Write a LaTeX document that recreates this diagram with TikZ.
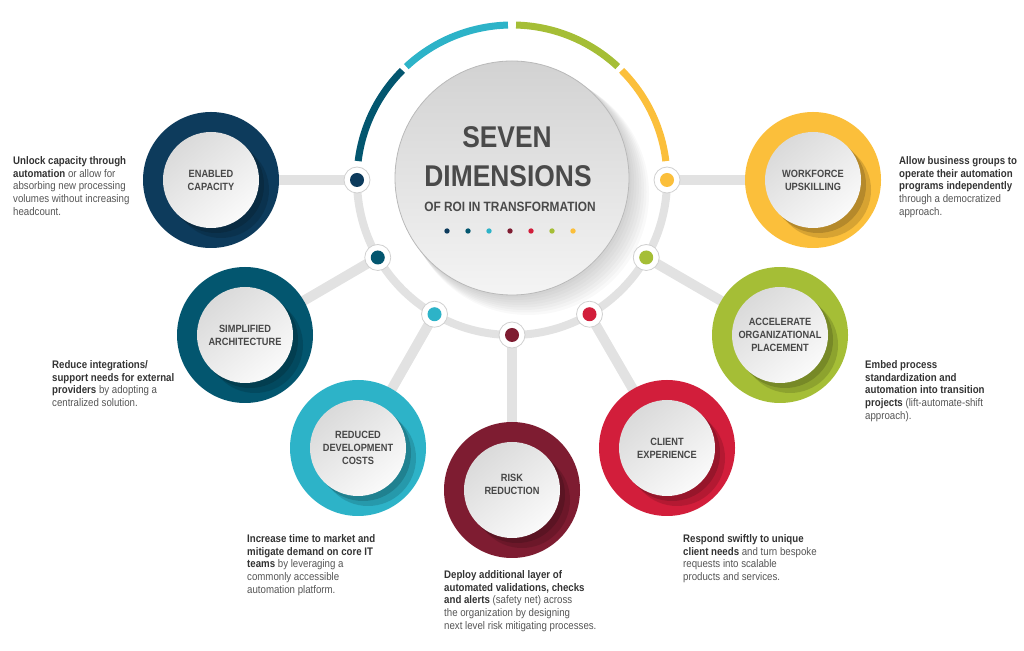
\documentclass[tikz,border=0pt]{standalone}
\usepackage{fontspec}
\setmainfont{Liberation Sans}
\newfontfamily\cf[FakeStretch=0.88]{Liberation Sans}
\usetikzlibrary{calc}
\pgfdeclarelayer{bg}
\pgfsetlayers{bg,main}
\definecolor{cnavy}{HTML}{0D3B5C}
\definecolor{cteal}{HTML}{03566F}
\definecolor{ccyan}{HTML}{2DB3C8}
\definecolor{cmaroon}{HTML}{7E1C31}
\definecolor{cred}{HTML}{D21E3B}
\definecolor{cgreen}{HTML}{A5BE36}
\definecolor{cyellow}{HTML}{FBBF3B}
\definecolor{ringgray}{HTML}{E2E2E2}
\definecolor{dotedge}{HTML}{D0D0D0}
\definecolor{descgray}{HTML}{555555}
\definecolor{boldgray}{HTML}{333333}
\definecolor{labelgray}{HTML}{474747}
\definecolor{titlegray}{HTML}{4A4A4A}
\definecolor{innertop}{HTML}{DADADA}
\definecolor{innerbot}{HTML}{FAFAFA}
\definecolor{hubtop}{HTML}{D2D2D2}
\definecolor{hubbot}{HTML}{F4F4F4}
\newcommand\dB[1]{{\bfseries\color{boldgray}#1}}
\begin{document}
\begin{tikzpicture}[x=1pt,y=1pt,
  ringdot/.style={circle, fill=white, draw=dotedge, line width=0.8pt, minimum size=26pt, inner sep=0pt},
  sat/.style={circle, minimum size=136pt, inner sep=0pt},
  connector/.style={draw=ringgray, line width=10pt},
  desc/.style={anchor=north west, inner sep=0pt, align=left, text=descgray,
    font=\cf\fontsize{11}{12.9}\selectfont},
  satlabel/.style={align=center, inner sep=0pt, text=labelgray,
    font=\cf\bfseries\fontsize{10.5}{13}\selectfont},
  title/.style={inner sep=0pt, text=titlegray, font=\cf\bfseries}]
\useasboundingbox (0,0) rectangle (1024,650);
\coordinate (rc) at (512,470);

% satellites
\foreach \n/\px/\py/\ly/\c/\t in {
  en/211/470/470/cnavy/{ENABLED\\CAPACITY},
  si/245/315/315/cteal/{SIMPLIFIED\\ARCHITECTURE},
  re/358/202/202/ccyan/{REDUCED\\DEVELOPMENT\\COSTS},
  ri/512/160/166/cmaroon/{RISK\\REDUCTION},
  cl/667/202/202/cred/{CLIENT\\EXPERIENCE},
  ac/780/315/315/cgreen/{ACCELERATE\\ORGANIZATIONAL\\PLACEMENT},
  wo/813/470/470/cyellow/{WORKFORCE\\UPSKILLING}} {
  \node[sat, fill=\c] (s\n) at (\px,\py) {};
  \begin{scope}
    \clip (\px,\py) circle (68);
    \fill[\c!72!black] (\px+5,\py-5) circle (48);
    \fill[\c!72!black, opacity=0.5] (\px+10,\py-10) circle (48);
  \end{scope}
  \shade[top color=innertop, bottom color=innerbot, shading angle=40] (\px,\py) circle (48);
  \node[satlabel] (l\n) at (\px,\ly) {\t};
}

% ring dots
\foreach \n/\a/\c in {en/180/cnavy, si/210/cteal, re/240/ccyan, ri/270/cmaroon,
  cl/300/cred, ac/330/cgreen, wo/0/cyellow} {
  \node[ringdot] (d\n) at ($(rc)+(\a:155)$) {};
  \fill[\c] (d\n.center) circle (7);
  \begin{pgfonlayer}{bg}
    \draw[connector] (d\n.center) -- (s\n.center);
  \end{pgfonlayer}
}

% gray lower ring
\begin{pgfonlayer}{bg}
  \draw[ringgray, line width=8pt] (rc) ++(180:155) arc[start angle=180, end angle=360, radius=155];
\end{pgfonlayer}

% coloured upper arcs
\draw[cteal, line width=7pt] (rc) ++(173:155) arc[start angle=173, end angle=135, radius=155];
\draw[ccyan, line width=7pt] (rc) ++(133:155) arc[start angle=133, end angle=91.5, radius=155];
\draw[cgreen, line width=7pt] (rc) ++(88.5:155) arc[start angle=88.5, end angle=47, radius=155];
\draw[cyellow, line width=7pt] (rc) ++(45:155) arc[start angle=45, end angle=7, radius=155];

% hub
\foreach \i in {1,...,8} {
  \fill[black, opacity=0.025] (512+2*\i,472-2*\i) circle (117+0.5*\i);
}
\shade[top color=hubtop, bottom color=hubbot] (512,472) circle (117);
\node[circle, draw=gray!55, line width=0.8pt, minimum size=234pt, inner sep=0pt] (hub) at (512,472) {};
\node[title, font=\cf\bfseries\fontsize{30}{30}\selectfont] (t1) at (507,512.5) {SEVEN};
\node[title, font=\cf\bfseries\fontsize{30}{30}\selectfont] (t2) at (508,474) {DIMENSIONS};
\node[title, font=\cf\bfseries\fontsize{13.5}{14}\selectfont] (t3) at (510,443.3) {OF ROI IN TRANSFORMATION};
\foreach \k/\c in {0/cnavy,1/cteal,2/ccyan,3/cmaroon,4/cred,5/cgreen,6/cyellow} {
  \fill[\c] (447+21*\k,419) circle (2.7);
}

% descriptions
\node[desc] (xen) at (13,494) {\dB{Unlock capacity through}\\\dB{automation} or allow for\\absorbing new processing\\volumes without increasing\\headcount.};
\node[desc] (xsi) at (52,290) {\dB{Reduce integrations/}\\\dB{support needs for external}\\\dB{providers} by adopting a\\centralized solution.};
\node[desc] (xre) at (247,116) {\dB{Increase time to market and}\\\dB{mitigate demand on core IT}\\\dB{teams} by leveraging a\\commonly accessible\\automation platform.};
\node[desc] (xri) at (444,80) {\dB{Deploy additional layer of}\\\dB{automated validations, checks}\\\dB{and alerts} (safety net) across\\the organization by designing\\next level risk mitigating processes.};
\node[desc] (xcl) at (683,116) {\dB{Respond swiftly to unique}\\\dB{client needs} and turn bespoke\\requests into scalable\\products and services.};
\node[desc] (xwo) at (899,494) {\dB{Allow business groups to}\\\dB{operate their automation}\\\dB{programs independently}\\through a democratized\\approach.};
\node[desc] (xac) at (865,290) {\dB{Embed process}\\\dB{standardization and}\\\dB{automation into transition}\\\dB{projects} (lift-automate-shift\\approach).};
\end{tikzpicture}
\end{document}
